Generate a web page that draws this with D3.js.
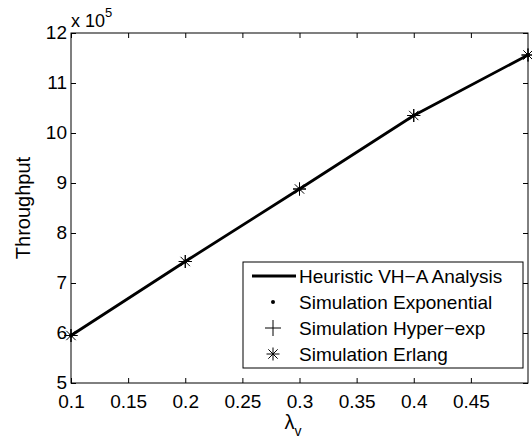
<!DOCTYPE html>
<html><head><meta charset="utf-8">
<script src="https://cdn.jsdelivr.net/npm/d3@7"></script>
<style>
body{margin:0;background:#fff;}
text{font-family:"Liberation Sans",Arial,Helvetica,sans-serif;fill:#000;}
</style></head>
<body>
<svg id="chart" width="532" height="441"></svg>
<script>
const lambdaV = [0.1, 0.2, 0.3, 0.4, 0.5];
const heuristic = [5.95, 7.43, 8.88, 10.35, 11.56];
const simExponential = [5.95, 7.43, 8.88, 10.35, 11.56];
const simHyperExp = [5.95, 7.43, 8.88, 10.35, 11.56];
const simErlang = [5.95, 7.43, 8.88, 10.35, 11.56];
const xTicks = [0.1, 0.15, 0.2, 0.25, 0.3, 0.35, 0.4, 0.45];
const yTicks = [5, 6, 7, 8, 9, 10, 11, 12];
const legendLabels = ["Heuristic VH\u2212A Analysis", "Simulation Exponential", "Simulation Hyper\u2212exp", "Simulation Erlang"];

const svg = d3.select("#chart");
const L = 71, R = 528, T = 33, B = 383;
const x = d3.scaleLinear().domain([0.1, 0.5]).range([L, R]);
const y = d3.scaleLinear().domain([5, 12]).range([B, T]);

svg.append("rect").attr("x", L).attr("y", T).attr("width", R - L).attr("height", B - T)
  .attr("fill", "none").attr("stroke", "#000").attr("stroke-width", 1);

const ax = svg.append("g").attr("transform", `translate(0,${B})`)
  .call(d3.axisBottom(x).tickValues(xTicks).tickSize(-5).tickPadding(0).tickFormat(d => String(d)));
const axT = svg.append("g").attr("transform", `translate(0,${T})`)
  .call(d3.axisTop(x).tickValues(xTicks).tickSize(-5).tickFormat(""));
const ay = svg.append("g").attr("transform", `translate(${L},0)`)
  .call(d3.axisLeft(y).tickValues(yTicks).tickSize(-5).tickPadding(4).tickFormat(d3.format("d")));
const ayR = svg.append("g").attr("transform", `translate(${R},0)`)
  .call(d3.axisRight(y).tickValues(yTicks).tickSize(-5).tickFormat(""));
[ax, axT, ay, ayR].forEach(g => {
  g.select(".domain").remove();
  g.selectAll("line").attr("stroke", "#000");
  g.selectAll("text").style("font-size", "19px").attr("fill", "#000");
});
ax.selectAll("text").attr("y", 25).attr("dy", 0);
ay.selectAll("text").attr("dy", "0.3em");

const ex = svg.append("text").attr("x", 71).attr("y", 27).style("font-size", "18px");
ex.append("tspan").text("x 10");
ex.append("tspan").attr("dy", -10).style("font-size", "13px").text("5");

const xl = svg.append("text").attr("x", 293).attr("y", 429).attr("text-anchor", "middle").style("font-size", "20px");
xl.append("tspan").text("\u03bb");
xl.append("tspan").attr("dy", 7).style("font-size", "14px").text("v");
svg.append("text").attr("transform", `translate(30,${(T + B) / 2}) rotate(-90)`)
  .attr("text-anchor", "middle").style("font-size", "20px").text("Throughput");

const line = d3.line().x((d, i) => x(lambdaV[i])).y(d => y(d));
svg.append("path").datum(heuristic).attr("d", line).attr("fill", "none")
  .attr("stroke", "#000").attr("stroke-width", 2.8);

function dot(g, cx, cy) { g.append("circle").attr("cx", cx).attr("cy", cy).attr("r", 2).attr("fill", "#000"); }
function plus(g, cx, cy, s) {
  g.append("path").attr("d", `M${cx - s},${cy}H${cx + s}M${cx},${cy - s}V${cy + s}`).attr("stroke", "#000").attr("stroke-width", 1).attr("fill", "none");
}
function star(g, cx, cy, s) {
  const d = s * 0.72;
  plus(g, cx, cy, s);
  g.append("path").attr("d", `M${cx - d},${cy - d}L${cx + d},${cy + d}M${cx - d},${cy + d}L${cx + d},${cy - d}`).attr("stroke", "#000").attr("stroke-width", 1).attr("fill", "none");
}
const mg = svg.append("g");
simExponential.forEach((v, i) => dot(mg, x(lambdaV[i]), y(v)));
simHyperExp.forEach((v, i) => plus(mg, x(lambdaV[i]), y(v), 6.5));
simErlang.forEach((v, i) => star(mg, x(lambdaV[i]), y(v), 6.5));

const lg = svg.append("g");
const LX = 243, LY = 262, LW = 280, LH = 106;
lg.append("rect").attr("x", LX).attr("y", LY).attr("width", LW).attr("height", LH)
  .attr("fill", "#fff").attr("stroke", "#000").attr("stroke-width", 1);
const rowY = [276, 302, 328, 354];
const symX = 273;
lg.append("line").attr("x1", 252).attr("x2", 296).attr("y1", rowY[0]).attr("y2", rowY[0]).attr("stroke", "#000").attr("stroke-width", 2.8);
dot(lg, symX, rowY[1]);
plus(lg, symX, rowY[2], 8);
star(lg, symX, rowY[3], 6.5);
legendLabels.forEach((t, i) => {
  lg.append("text").attr("x", 299).attr("y", rowY[i]).attr("dy", "0.36em").style("font-size", "19px").text(t);
});
</script>
</body></html>
